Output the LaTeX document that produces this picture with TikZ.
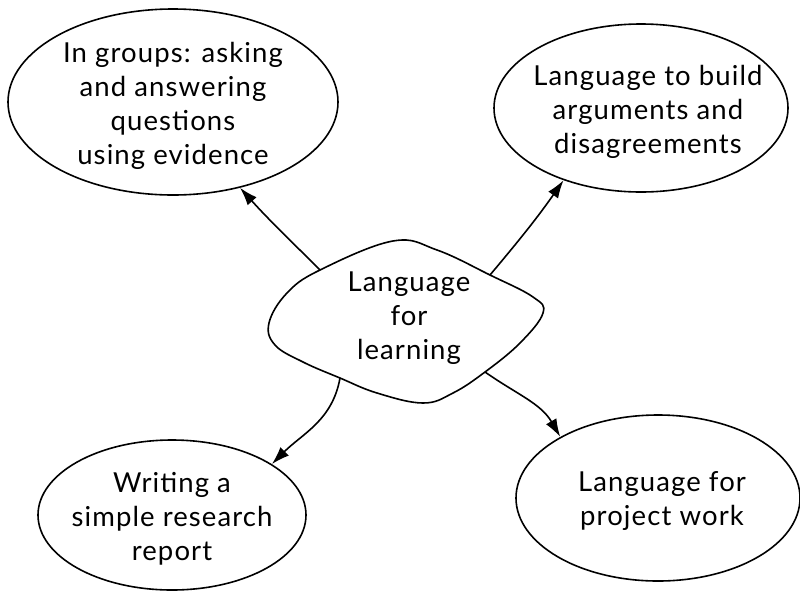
\documentclass[tikz,border=0pt]{standalone}
\usepackage{fontspec}
\setmainfont{Lato}[LetterSpace=4]
\usetikzlibrary{shapes.geometric,arrows.meta}
\begin{document}
\begin{tikzpicture}[x=1pt,y=-1pt,
  bubble/.style={draw, ellipse, line width=1.6pt, inner sep=0pt},
  txt/.style={align=center, font=\fontsize{27.5}{34}\selectfont, inner sep=0pt},
  link/.style={line width=1.6pt, -{Latex[length=18pt,width=12pt]}}]
\useasboundingbox (0,0) rectangle (800,590);
% outer bubbles
\node[bubble, minimum width=330pt, minimum height=186pt] (tl) at (173,102) {};
\node[bubble, minimum width=294pt, minimum height=168pt] (tr) at (641,108) {};
\node[bubble, minimum width=268pt, minimum height=150pt] (bl) at (172,515) {};
\node[bubble, minimum width=284pt, minimum height=166pt] (br) at (658,498) {};
\node[txt] (tl-t) at (173,106) {In groups: asking\\and answering\\questions\\using evidence};
\node[txt] (tr-t) at (648,112) {Language to build\\arguments and\\disagreements};
\node[txt] (bl-t) at (172,519) {Writing a\\simple research\\report};
\node[txt] (br-t) at (662,501) {Language for\\project work};
% central blob
\coordinate (c-nw) at (320,270);
\coordinate (c-ne) at (490,275);
\coordinate (c-sw) at (340,378);
\coordinate (c-se) at (485,372);
\draw[line width=1.6pt] plot[smooth cycle, tension=0.65] coordinates {
  (393,241) (c-nw) (287,293) (269,323) (275,345) (303,362) (c-sw) (377,393)
  (423,403) (453,393) (c-se) (520,343) (543,313) (533,297) (c-ne) (437,250)};
\node[txt] (c) at (409,318) {Language\\for\\learning};
% connectors
\draw[link] (c-nw) to[out=135, in=-48] (tl.-52);
\draw[link] (c-ne) to[out=50, in=-125] (tr.223);
\draw[link] (c-sw) to[out=-100, in=45] (bl.27);
\draw[link] (c-se) to[out=-35, in=120] (br.148);
\end{tikzpicture}
\end{document}
